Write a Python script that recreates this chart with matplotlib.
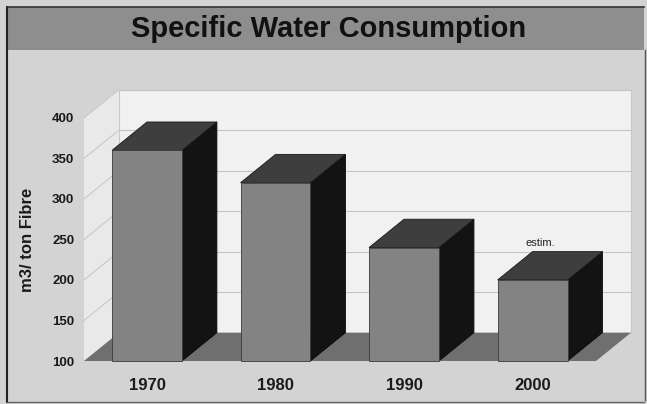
import matplotlib.pyplot as plt
from matplotlib.patches import Polygon, Rectangle

years = ['1970', '1980', '1990', '2000']
consumption = [360, 320, 240, 200]
y_ticks = [100, 150, 200, 250, 300, 350, 400]
note = 'estim.'

plt.rcParams['font.family'] = ['Liberation Sans', 'DejaVu Sans']

W, H = 647, 404
fig = plt.figure(figsize=(W / 100, H / 100), dpi=100, facecolor='#d3d3d3')

# plot area placed by pixel: front floor edge at row 361, back wall top near row 90
left, right, top, bottom = 84, 631, 92, 361
ax = fig.add_axes([left / W, 1 - bottom / H, (right - left) / W, (bottom - top) / H])
ax.set_xlim(-0.49, 3.766)
ax.set_ylim(100, 432)
ax.patch.set_alpha(0)
for s in ax.spines.values():
    s.set_visible(False)

# depth offset of the 3-D look, in data units
dx, dy = 0.272, 35
half = 0.272
x0, x1 = -0.49, 3.494
base, vmax = 100, 400

# title band and frame
fig.patches.append(Rectangle((7 / W, 1 - 50 / H), 637 / W, 43 / H, transform=fig.transFigure,
                             facecolor='#8e8e8e', edgecolor='none', zorder=0))
fig.add_artist(plt.Line2D([7 / W, 7 / W], [1 - 7 / H, 1 - 402 / H], color='#222222', lw=1.5))
fig.add_artist(plt.Line2D([7 / W, 644 / W], [1 - 7 / H, 1 - 7 / H], color='#333333', lw=1.2))
fig.add_artist(plt.Line2D([7 / W, 644 / W], [1 - 402 / H, 1 - 402 / H], color='#666666', lw=1))
fig.add_artist(plt.Line2D([645 / W, 645 / W], [1 - 50 / H, 1 - 400 / H], color='#555555', lw=1))
fig.text(329 / W, 1 - 29 / H, 'Specific Water Consumption', ha='center', va='center',
         fontsize=21, fontweight='bold', color='#111111')

# walls
ax.add_patch(Polygon([(x0 + dx, base + dy), (x0 + dx, vmax + dy), (x1 + dx, vmax + dy),
                      (x1 + dx, base + dy)], closed=True, facecolor='#f1f1f1',
                     edgecolor='#c8c8c8', lw=0.8, zorder=1, clip_on=False))
ax.add_patch(Polygon([(x0, base), (x0, vmax), (x0 + dx, vmax + dy), (x0 + dx, base + dy)],
                     closed=True, facecolor='#e9e9e9', edgecolor='none', zorder=1, clip_on=False))
for t in y_ticks[1:]:
    ax.plot([x0 + dx, x1 + dx], [t + dy, t + dy], color='#c4c4c4', lw=0.8, zorder=2, clip_on=False)
    ax.plot([x0, x0 + dx], [t, t + dy], color='#c8c8c8', lw=0.8, zorder=2, clip_on=False)

# floor
ax.add_patch(Polygon([(x0, base), (x0 + dx, base + dy), (x1 + dx, base + dy), (x1, base)],
                     closed=True, facecolor='#6f6f6f', edgecolor='none', zorder=3, clip_on=False))

# bars
for i, v in enumerate(consumption):
    a, b = i - half, i + half
    ax.add_patch(Polygon([(b, base), (b, v), (b + dx, v + dy), (b + dx, base + dy)],
                         closed=True, facecolor='#131313', edgecolor='#0a0a0a', lw=0.6, zorder=4))
    ax.add_patch(Polygon([(a, v), (a + dx, v + dy), (b + dx, v + dy), (b, v)],
                         closed=True, facecolor='#3e3e3e', edgecolor='#1a1a1a', lw=0.6, zorder=4))
    ax.add_patch(Rectangle((a, base), b - a, v - base, facecolor='#838383',
                           edgecolor='#3a3a3a', lw=0.6, zorder=5, clip_on=False))

ax.text(3.06, consumption[3] + 46, note, ha='center', va='center',
        fontsize=8, color='#222222', zorder=6)

ax.set_yticks(y_ticks)
ax.set_yticklabels([str(t) for t in y_ticks], fontsize=9.5, fontweight='bold', color='#1a1a1a')
ax.set_xticks(range(len(years)))
ax.set_xticklabels(years, fontsize=12, fontweight='bold', color='#1a1a1a')
ax.tick_params(axis='y', length=0, pad=7)
ax.tick_params(axis='x', length=0, pad=12)
fig.text(28 / W, 1 - 240 / H, 'm3/ ton Fibre', rotation=90, ha='center', va='center',
         fontsize=12, fontweight='bold', color='#1a1a1a')

fig.savefig('out.png', dpi=100, facecolor=fig.get_facecolor())
